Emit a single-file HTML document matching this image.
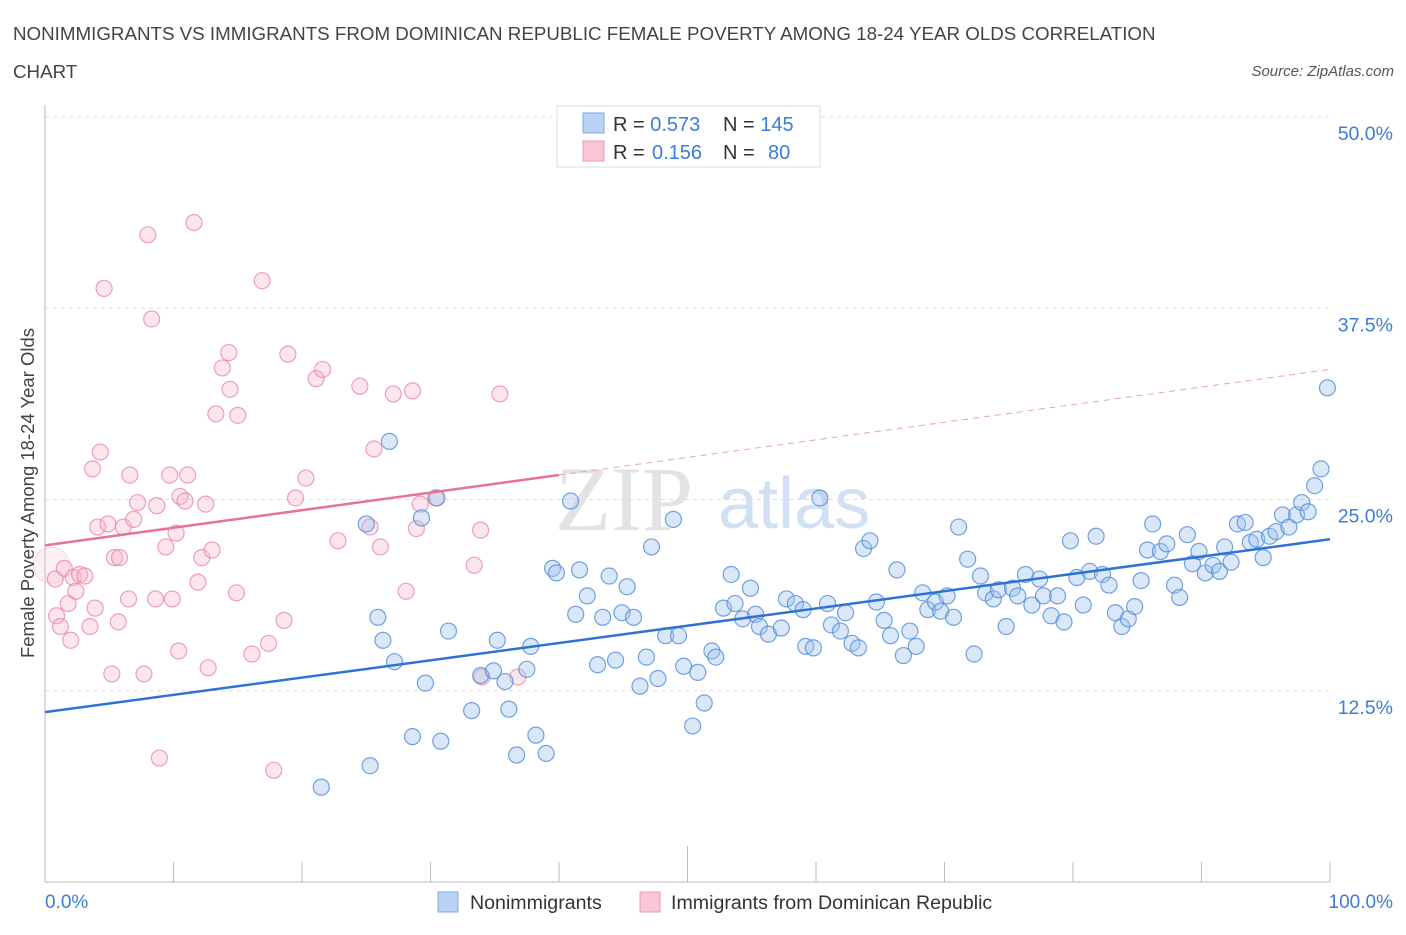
<!DOCTYPE html>
<html><head><meta charset="utf-8"><style>
body{margin:0;background:#fff;font-family:"Liberation Sans",sans-serif;}
svg text{font-family:"Liberation Sans",sans-serif;}
</style></head><body>
<svg width="1406" height="930" xmlns="http://www.w3.org/2000/svg">
<text x="13" y="40" font-size="18.75" fill="#444">NONIMMIGRANTS VS IMMIGRANTS FROM DOMINICAN REPUBLIC FEMALE POVERTY AMONG 18-24 YEAR OLDS CORRELATION</text>
<text x="13" y="78" font-size="18.75" fill="#444">CHART</text>
<text x="1394" y="76" font-size="15" fill="#555" font-style="italic" text-anchor="end">Source: ZipAtlas.com</text>
<g>
<text x="555" y="530" font-size="92" fill="#ddd" font-family="Liberation Serif" style="font-family:'Liberation Serif',serif" opacity="0.8">ZIP</text>
<text x="718" y="528" font-size="72" fill="#c6d9f1" opacity="0.8">atlas</text>
</g>
<g id="grid"></g>
<g id="axes"></g>
<g id="pink"></g>
<g id="blue"></g>
<g id="lines"></g>
<text transform="translate(34,493) rotate(-90)" font-size="18.5" fill="#444" text-anchor="middle">Female Poverty Among 18-24 Year Olds</text>
<text x="45" y="908" font-size="19" fill="#3b7dd8">0.0%</text>
<text x="1393" y="908" font-size="19" fill="#3b7dd8" text-anchor="end">100.0%</text>
<g>
<rect x="557" y="106" width="263" height="61" fill="#fff" stroke="#ddd"/>
<rect x="583" y="113" width="21" height="20" fill="#b9d3f5" stroke="#7fa8e3"/>
<rect x="583" y="141" width="21" height="20" fill="#f9c6d5" stroke="#ec9ab3"/>
<text x="613" y="131" font-size="20" fill="#333">R = <tspan fill="#3b7dd8">0.573</tspan></text>
<text x="723" y="131" font-size="20" fill="#333">N = <tspan fill="#3b7dd8">145</tspan></text>
<text x="613" y="159" font-size="20" fill="#333">R = <tspan fill="#3b7dd8" x="652">0.156</tspan></text>
<text x="723" y="159" font-size="20" fill="#333">N = <tspan fill="#3b7dd8" x="768">80</tspan></text>
</g>
<g>
<rect x="438" y="892" width="20" height="20" fill="#b9d3f5" stroke="#7fa8e3"/>
<text x="470" y="909" font-size="19.6" fill="#333">Nonimmigrants</text>
<rect x="640" y="892" width="20" height="20" fill="#f9c6d5" stroke="#ec9ab3"/>
<text x="671" y="909" font-size="19.6" fill="#333">Immigrants from Dominican Republic</text>
</g>
</svg>
<script>
const yTicks=[12.5,25,37.5,50];
const yTickLabels=["12.5%","25.0%","37.5%","50.0%"];
const xTicks=[0,10,20,30,40,50,60,70,80,90,100];
const blueX=[21.5,25.3,25.9,26.3,26.8,27.2,25.0,28.6,29.3,29.6,30.5,30.8,31.4,33.2,33.9,34.9,35.2,35.8,36.1,36.7,37.5,37.8,38.2,39.0,39.5,39.8,40.9,41.3,41.6,42.2,43.0,43.4,43.9,44.4,44.9,45.3,45.8,46.3,46.8,47.2,47.7,48.3,48.9,49.3,49.7,50.4,50.8,51.3,51.9,52.2,52.8,53.4,53.7,54.3,54.9,55.3,55.6,56.3,57.3,57.7,58.4,59.0,59.2,59.8,60.3,60.9,61.2,61.9,62.3,62.8,63.3,63.7,64.2,64.7,65.3,65.8,66.3,66.8,67.3,67.8,68.3,68.7,69.3,69.7,70.2,70.7,71.1,71.8,72.3,72.8,73.2,73.8,74.2,74.8,75.3,75.7,76.3,76.8,77.4,77.7,78.3,78.8,79.3,79.8,80.3,80.8,81.3,81.8,82.3,82.8,83.3,83.8,84.3,84.8,85.3,85.8,86.2,86.8,87.3,87.9,88.3,88.9,89.3,89.8,90.3,90.9,91.4,91.8,92.3,92.8,93.4,93.8,94.3,94.8,95.3,95.8,96.3,96.8,97.4,97.8,98.3,98.8,99.3,99.8];
const blueY=[6.2,7.6,17.3,15.8,28.8,14.4,23.4,9.5,23.8,13.0,25.1,9.2,16.4,11.2,13.5,13.8,15.8,13.1,11.3,8.3,13.9,15.4,9.6,8.4,20.5,20.2,24.9,17.5,20.4,18.7,14.2,17.3,20.0,14.5,17.6,19.3,17.3,12.8,14.7,21.9,13.3,16.1,23.7,16.1,14.1,10.2,13.7,11.7,15.1,14.7,17.9,20.1,18.2,17.2,19.2,17.5,16.7,16.2,16.6,18.5,18.2,17.8,15.4,15.3,25.1,18.2,16.8,16.4,17.6,15.6,15.3,21.8,22.3,18.3,17.1,16.1,20.4,14.8,16.4,15.4,18.9,17.8,18.3,17.7,18.7,17.3,23.2,21.1,14.9,20.0,18.9,18.5,19.1,16.7,19.2,18.7,20.1,18.1,19.8,18.7,17.4,18.7,17.0,22.3,19.9,18.1,20.3,22.6,20.1,19.4,17.6,16.7,17.2,18.0,19.7,21.7,23.4,21.6,22.1,19.4,18.6,22.7,20.8,21.6,20.2,20.7,20.3,21.9,20.9,23.4,23.5,22.2,22.4,21.2,22.6,22.9,24.0,23.2,24.0,24.8,24.2,25.9,27.0,32.3];
const pinkX=[0.5,0.8,0.9,1.2,1.5,1.8,2.0,2.2,2.4,2.7,3.1,3.5,3.7,3.9,4.1,4.3,4.6,4.9,5.2,5.4,5.7,5.8,6.1,6.5,6.6,6.9,7.2,7.7,8.0,8.3,8.6,8.7,8.9,9.4,9.7,9.9,10.2,10.4,10.5,10.9,11.1,11.6,11.9,12.2,12.5,12.7,13.0,13.3,13.8,14.3,14.4,14.9,15.0,16.1,16.9,17.4,17.8,18.6,18.9,19.5,20.3,21.1,21.6,22.8,24.5,25.3,25.6,26.1,27.1,28.1,28.6,28.9,29.2,30.4,33.4,33.9,34.0,35.4,36.8];
const pinkY=[20.7,19.8,17.4,16.7,20.5,18.2,15.8,19.9,19.0,20.1,20.0,16.7,27.0,17.9,23.2,28.1,38.8,23.4,13.6,21.2,17.0,21.2,23.2,18.5,26.6,23.7,24.8,13.6,42.3,36.8,18.5,24.6,8.1,21.9,26.6,18.5,22.8,15.1,25.2,24.9,26.6,43.1,19.6,21.2,24.7,14.0,21.7,30.6,33.6,34.6,32.2,18.9,30.5,14.9,39.3,15.6,7.3,17.1,34.5,25.1,26.4,32.9,33.5,22.3,32.4,23.2,28.3,21.9,31.9,19.0,32.1,23.1,24.7,25.1,20.7,23.0,13.4,31.9,13.4];
const blueLine=[11.1,22.4];
const pinkLine=[22.0,33.5];
const pinkSolidEnd=40;

const NS="http://www.w3.org/2000/svg";
const X0=45,X1=1330,Y0=882,Y1=117;
const sx=v=>X0+(X1-X0)*v/100;
const sy=v=>Y0-(Y0-Y1)*v/50;
function mk(tag,attrs,parent){const e=document.createElementNS(NS,tag);for(const k in attrs)e.setAttribute(k,attrs[k]);parent.appendChild(e);return e;}
const grid=document.getElementById('grid');
yTicks.forEach((t,i)=>{
  const l=mk('line',{x1:X0,x2:X1,y1:sy(t),y2:sy(t),stroke:'#ddd','stroke-dasharray':'4,4'},grid);
  
  
  const tx=mk('text',{x:1393,y:sy(t)+23,'font-size':19.5,fill:'#3b7dd8','text-anchor':'end'},grid);
  tx.textContent=yTickLabels[i];
  
  
});
const axes=document.getElementById('axes');
const ya=mk('line',{x1:X0,x2:X0,y1:105,y2:Y0,stroke:'#bbb'},axes);


const xa=mk('line',{x1:X0,x2:X1,y1:Y0,y2:Y0,stroke:'#bbb'},axes);


xTicks.forEach(t=>{
  const len=t===50?36:20;
  const k=mk('line',{x1:sx(t),x2:sx(t),y1:Y0-len,y2:Y0,stroke:'#bbb'},axes);
  
  
});
const pg=document.getElementById('pink');
pinkX.forEach((x,i)=>{
  const big=i===0;
  const c=mk('circle',{cx:sx(x),cy:sy(pinkY[i]),r:big?18:8,fill:big?'rgba(246,180,200,0.18)':'rgba(246,180,200,0.35)',stroke:big?'rgba(232,130,160,0.25)':'rgba(232,130,160,0.75)','stroke-width':1.2},pg);
  
  
});
const bg=document.getElementById('blue');
blueX.forEach((x,i)=>{
  const c=mk('circle',{cx:sx(x),cy:sy(blueY[i]),r:8,fill:'rgba(160,196,240,0.4)',stroke:'rgba(80,140,215,0.8)','stroke-width':1.2},bg);
  
  
});
const lg=document.getElementById('lines');
const bl=mk('line',{x1:sx(0),y1:sy(blueLine[0]),x2:sx(100),y2:sy(blueLine[1]),stroke:'#2f72d6','stroke-width':2.5},lg);


const pMid=pinkLine[0]+(pinkLine[1]-pinkLine[0])*pinkSolidEnd/100;
const pl=mk('line',{x1:sx(0),y1:sy(pinkLine[0]),x2:sx(pinkSolidEnd),y2:sy(pMid),stroke:'#e8709a','stroke-width':2.5},lg);


const pd=mk('line',{x1:sx(pinkSolidEnd),y1:sy(pMid),x2:sx(100),y2:sy(pinkLine[1]),stroke:'#e8a0b8','stroke-width':1,'stroke-dasharray':'6,5'},lg);


</script>
</body></html>
